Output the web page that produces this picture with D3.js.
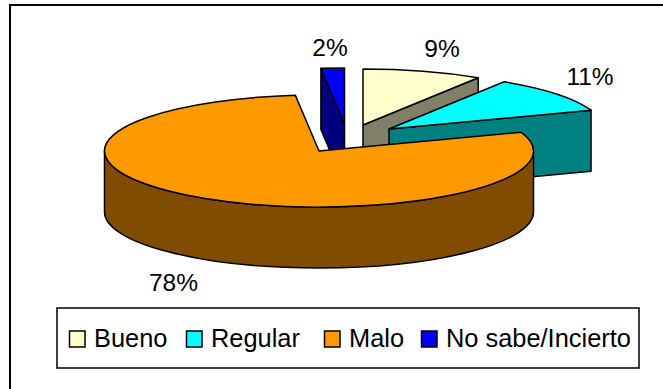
<!DOCTYPE html>
<html>
<head>
<meta charset="utf-8">
<script src="https://d3js.org/d3.v7.min.js"></script>
<style>
html, body { margin: 0; padding: 0; background: #fff; }
svg { display: block; }
text { font-family: "Liberation Sans", Arial, sans-serif; fill: #000; }
</style>
</head>
<body>
<script>
// chart data, slice sizes (they round to the labels)
var categories = ['Bueno', 'Regular', 'Malo', 'No sabe/Incierto'];
var values = [9, 10.5, 78.5, 1.75];
var labels = ['9%', '11%', '78%', '2%'];
var topColors = ['#ffffcc', '#00ffff', '#ff9900', '#0000ff'];
var sideColors = ['#808066', '#008080', '#804c00', '#000080'];

var svgWidth = 663, svgHeight = 389;
var rx = 214.5, ry = 56, depth = 61;

// where each exploded slice has its apex
var apexes = [[363, 125], [389, 129], [319, 151], [344.5, 124]];
var labelPos = [[442, 57], [590, 85], [173.5, 291], [330, 56]];

var svg = d3.select('body')
    .append('svg')
    .attr('width', svgWidth)
    .attr('height', svgHeight);

// the frame only shows on the top and the left
svg.append('line')
    .attr('x1', 9).attr('y1', 5)
    .attr('x2', svgWidth).attr('y2', 5)
    .attr('stroke', '#000')
    .attr('stroke-width', 2);

svg.append('line')
    .attr('x1', 10).attr('y1', 5)
    .attr('x2', 10).attr('y2', svgHeight)
    .attr('stroke', '#000')
    .attr('stroke-width', 2);

var slices = d3.pie().sort(null)(values);

var arc = d3.arc().innerRadius(0).outerRadius(rx);

function rim(a, i) {
    return [apexes[i][0] + rx * Math.sin(a), apexes[i][1] - ry * Math.cos(a)];
}

// flat cut face running from the apex out to the rim
function cutFace(a, i) {
    var p = rim(a, i), c = apexes[i];
    return 'M' + c + 'L' + p + 'L' + [p[0], p[1] + depth] + 'L' + [c[0], c[1] + depth] + 'Z';
}

// outer wall between two angles, only the front half can be seen
function wall(a0, a1, i) {
    var p0 = rim(a0, i), p1 = rim(a1, i);
    return 'M' + p0 +
        'A' + rx + ' ' + ry + ' 0 0 1 ' + p1 +
        'L' + [p1[0], p1[1] + depth] +
        'A' + rx + ' ' + ry + ' 0 0 0 ' + [p0[0], p0[1] + depth] + 'Z';
}

var chart = svg.append('g').attr('stroke', '#000').attr('stroke-width', 1.5).attr('stroke-linejoin', 'round');

function addSide(d, i) {
    chart.append('path').attr('d', d).attr('fill', sideColors[i]);
}

function addTop(i) {
    chart.append('path')
        .attr('d', arc(slices[i]))
        .attr('transform', 'translate(' + apexes[i] + ') scale(1,' + (ry / rx) + ')')
        .attr('vector-effect', 'non-scaling-stroke')
        .attr('fill', topColors[i]);
}

// back to front
addSide(cutFace(slices[3].startAngle, 3), 3);
addTop(3);
addSide(cutFace(slices[0].endAngle, 0), 0);
addTop(0);
addSide(cutFace(slices[1].endAngle, 1), 1);
addTop(1);
addSide(wall(Math.PI / 2, Math.PI * 1.5, 2), 2);
addTop(2);

// percent labels
svg.selectAll('text.pct')
    .data(labels)
    .enter()
    .append('text')
    .attr('class', 'pct')
    .attr('x', function (d, i) { return labelPos[i][0]; })
    .attr('y', function (d, i) { return labelPos[i][1]; })
    .attr('text-anchor', 'middle')
    .attr('font-size', 24.5)
    .text(function (d) { return d; });

// legend
var legendX = d3.scaleOrdinal().domain(categories).range([69, 186, 324, 421]);

svg.append('rect')
    .attr('x', 57)
    .attr('y', 308)
    .attr('width', 582)
    .attr('height', 60)
    .attr('fill', '#fff')
    .attr('stroke', '#000')
    .attr('stroke-width', 1.5);

var legend = svg.selectAll('g.legend')
    .data(categories)
    .enter()
    .append('g')
    .attr('class', 'legend')
    .attr('transform', function (d) { return 'translate(' + legendX(d) + ',0)'; });

legend.append('rect')
    .attr('x', 0.5)
    .attr('y', 331)
    .attr('width', 15.5)
    .attr('height', 16)
    .attr('fill', function (d, i) { return topColors[i]; })
    .attr('stroke', '#000')
    .attr('stroke-width', 1.5);

legend.append('text')
    .attr('x', 25)
    .attr('y', 347)
    .attr('font-size', 25.4)
    .text(function (d) { return d; });
</script>
</body>
</html>
